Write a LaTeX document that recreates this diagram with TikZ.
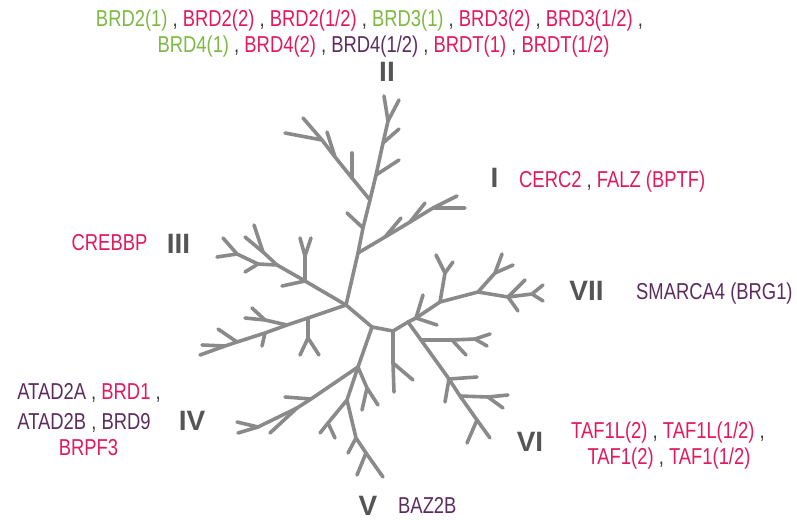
\documentclass[tikz,border=0pt]{standalone}
\usepackage{fontspec}
\setmainfont{Liberation Sans}[FakeStretch=0.8]
\newfontfamily\numfont{Liberation Sans}
\definecolor{grn}{HTML}{7DB945}
\definecolor{pnk}{HTML}{E2195C}
\definecolor{pur}{HTML}{5C2C5E}
\definecolor{sepc}{HTML}{3A3A3A}
\definecolor{numc}{HTML}{555555}
\definecolor{treec}{HTML}{8A8A8A}
\begin{document}
\begin{tikzpicture}[x=1bp,y=-1bp,
  br/.style={draw=treec,line width=3.6bp,line cap=round,line join=round},
  lbl/.style={font=\fontsize{23bp}{27bp}\selectfont,text=sepc,inner sep=0pt,anchor=base},
  lblw/.style={lbl,anchor=base west},
  num/.style={font=\numfont\bfseries\fontsize{28bp}{32bp}\selectfont,text=numc,inner sep=0pt,anchor=base}]
\useasboundingbox (0,0) rectangle (797,520);
% ---------- tree coordinates ----------
\coordinate (c0) at (346,305);
% II trunk
\coordinate (t1) at (358,253);
\coordinate (t2) at (363,228);
\coordinate (t3) at (370,200);
\coordinate (t4) at (376,175);
\coordinate (t5) at (383,143);
\coordinate (t6) at (388,121);
\coordinate (t6a) at (384,96);
\coordinate (t6b) at (399,100);
\coordinate (t5a) at (399,129);
\coordinate (t4a) at (399,160);
\coordinate (t2a) at (347,213);
\coordinate (a1) at (352,178);
\coordinate (a1a) at (352,153);
\coordinate (a2) at (335,157);
\coordinate (a2a) at (327,132);
\coordinate (a3) at (322,140);
\coordinate (a3a) at (285,133);
\coordinate (a3b) at (303,118);
% I
\coordinate (b1) at (385,237);
\coordinate (b1a) at (401,218);
\coordinate (b2) at (410,222);
\coordinate (b2a) at (425,203);
\coordinate (b3) at (433,208);
\coordinate (b3a) at (465,208);
\coordinate (b3b) at (457,196);
% III
\coordinate (d1) at (305,281);
\coordinate (d1v) at (305,256);
\coordinate (d1va) at (300,238);
\coordinate (d1vb) at (311,238);
\coordinate (d1a) at (282,286);
\coordinate (d2) at (277,265);
\coordinate (d3) at (258,264);
\coordinate (d3a) at (245,272);
\coordinate (d4) at (237,254);
\coordinate (d4a) at (223,238);
\coordinate (d4b) at (217,257);
\coordinate (d5) at (263,252);
\coordinate (d5a) at (245,237);
\coordinate (d5b) at (254,225);
% IV
\coordinate (e1) at (308,318);
\coordinate (e1v) at (308,338);
\coordinate (e1va) at (300,355);
\coordinate (e1vb) at (319,355);
\coordinate (e2) at (287,325);
\coordinate (e2b) at (265,320);
\coordinate (e2ba) at (245,318);
\coordinate (e2bb) at (252,308);
\coordinate (e3) at (265,333);
\coordinate (e3a) at (262,346);
\coordinate (e4) at (237,342);
\coordinate (e4a) at (218,329);
\coordinate (e5) at (225,346);
\coordinate (e5a) at (202,345);
\coordinate (e5b) at (200,355);
% V
\coordinate (x1) at (372,327);
\coordinate (v1) at (358,367);
\coordinate (vb) at (367,388);
\coordinate (vba) at (362,410);
\coordinate (vbb) at (378,405);
\coordinate (w1) at (311,399);
\coordinate (w1a) at (285,397);
\coordinate (w2) at (297,408);
\coordinate (w2a) at (270,433);
\coordinate (w3) at (258,427);
\coordinate (w3a) at (237,422);
\coordinate (w3b) at (238,433);
\coordinate (v2) at (347,400);
\coordinate (v3) at (328,423);
\coordinate (v3a) at (320,433);
\coordinate (v3b) at (335,438);
\coordinate (v4) at (356,438);
\coordinate (v4a) at (348,453);
\coordinate (v5) at (366,453);
\coordinate (v5a) at (357,475);
\coordinate (v5b) at (383,477);
% right part
\coordinate (y1) at (393,331);
\coordinate (y2) at (393,363);
\coordinate (y2a) at (413,380);
\coordinate (y2b) at (394,392);
\coordinate (z0) at (408,322);
% VII
\coordinate (z1) at (416,318);
\coordinate (z1a) at (437,325);
\coordinate (z1b) at (423,295);
\coordinate (z2) at (440,302);
\coordinate (z2v) at (445,273);
\coordinate (z2va) at (436,255);
\coordinate (z2vb) at (453,262);
\coordinate (z3) at (478,292);
\coordinate (z3v) at (495,273);
\coordinate (z3va) at (502,254);
\coordinate (z3vb) at (513,265);
\coordinate (z4) at (508,297);
\coordinate (z4a) at (525,280);
\coordinate (z4b) at (518,311);
\coordinate (z5) at (532,294);
\coordinate (z5a) at (543,285);
\coordinate (z5b) at (543,301);
% VI
\coordinate (f1) at (421,340);
\coordinate (g0) at (452,340);
\coordinate (g0a) at (466,355);
\coordinate (g1) at (475,339);
\coordinate (g1a) at (490,334);
\coordinate (g1b) at (487,346);
\coordinate (f2) at (449,379);
\coordinate (f2a) at (477,377);
\coordinate (f2b) at (445,402);
\coordinate (f3) at (460,396);
\coordinate (h1) at (488,397);
\coordinate (h1a) at (508,395);
\coordinate (h1b) at (503,408);
\coordinate (f4) at (477,420);
\coordinate (f4a) at (467,443);
\coordinate (f5) at (490,438);
% ---------- branches ----------
% II
\draw[br] (c0) -- (t1) -- (t2) -- (t3) -- (t4) -- (t5) -- (t6) -- (t6a);
\draw[br] (t6) -- (t6b);
\draw[br] (t5) -- (t5a);
\draw[br] (t4) -- (t4a);
\draw[br] (t2) -- (t2a);
\draw[br] (t3) -- (a1) -- (a2) -- (a3) -- (a3b);
\draw[br] (a1) -- (a1a);
\draw[br] (a2) -- (a2a);
\draw[br] (a3) -- (a3a);
% I
\draw[br] (t1) -- (b1) -- (b2) -- (b3) -- (b3a);
\draw[br] (b3) -- (b3b);
\draw[br] (b1) -- (b1a);
\draw[br] (b2) -- (b2a);
% III
\draw[br] (c0) -- (d1) -- (d2) -- (d3) -- (d4) -- (d4a);
\draw[br] (d4) -- (d4b);
\draw[br] (d3) -- (d3a);
\draw[br] (d2) -- (d5) -- (d5a);
\draw[br] (d5) -- (d5b);
\draw[br] (d1) -- (d1v) -- (d1va);
\draw[br] (d1v) -- (d1vb);
\draw[br] (d1) -- (d1a);
% IV
\draw[br] (c0) -- (e1) -- (e2) -- (e3) -- (e4) -- (e5) -- (e5b);
\draw[br] (e5) -- (e5a);
\draw[br] (e4) -- (e4a);
\draw[br] (e3) -- (e3a);
\draw[br] (e2) -- (e2b) -- (e2ba);
\draw[br] (e2b) -- (e2bb);
\draw[br] (e1) -- (e1v) -- (e1va);
\draw[br] (e1v) -- (e1vb);
% V
\draw[br] (c0) -- (x1) -- (v1) -- (v2) -- (v4) -- (v5) -- (v5b);
\draw[br] (v5) -- (v5a);
\draw[br] (v4) -- (v4a);
\draw[br] (v2) -- (v3) -- (v3a);
\draw[br] (v3) -- (v3b);
\draw[br] (v1) -- (vb) -- (vba);
\draw[br] (vb) -- (vbb);
\draw[br] (v1) -- (w1) -- (w2) -- (w3) -- (w3a);
\draw[br] (w3) -- (w3b);
\draw[br] (w2) -- (w2a);
\draw[br] (w1) -- (w1a);
% right
\draw[br] (x1) -- (y1) -- (y2) -- (y2b);
\draw[br] (y2) -- (y2a);
\draw[br] (y1) -- (z0);
% VII
\draw[br] (z0) -- (z1) -- (z2) -- (z3) -- (z4) -- (z5) -- (z5a);
\draw[br] (z5) -- (z5b);
\draw[br] (z4) -- (z4a);
\draw[br] (z4) -- (z4b);
\draw[br] (z3) -- (z3v) -- (z3va);
\draw[br] (z3v) -- (z3vb);
\draw[br] (z2) -- (z2v) -- (z2va);
\draw[br] (z2v) -- (z2vb);
\draw[br] (z1) -- (z1a);
\draw[br] (z1) -- (z1b);
% VI
\draw[br] (z0) -- (f1) -- (f2) -- (f3) -- (f4) -- (f5);
\draw[br] (f4) -- (f4a);
\draw[br] (f3) -- (h1) -- (h1a);
\draw[br] (h1) -- (h1b);
\draw[br] (f2) -- (f2a);
\draw[br] (f2) -- (f2b);
\draw[br] (f1) -- (g0) -- (g1) -- (g1a);
\draw[br] (g1) -- (g1b);
\draw[br] (g0) -- (g0a);
% ---------- labels ----------
\node[lbl] (top1) at (369.5,27) {{\color{grn}BRD2(1)} , {\color{pnk}BRD2(2)} , {\color{pnk}BRD2(1/2)} , {\color{grn}BRD3(1)} , {\color{pnk}BRD3(2)} , {\color{pnk}BRD3(1/2)} ,};
\node[lbl] (top2) at (383.5,53) {{\color{grn}BRD4(1)} , {\color{pnk}BRD4(2)} , {\color{pur}BRD4(1/2)} , {\color{pnk}BRDT(1)} , {\color{pnk}BRDT(1/2)}};
\node[num] (nII) at (387,82) {II};
\node[num] (nI) at (494.5,188) {I};
\node[lblw] (gI) at (519,188) {{\color{pnk}CERC2} , {\color{pnk}FALZ (BPTF)}};
\node[lbl] (gIII) at (109.5,251) {\color{pnk}CREBBP};
\node[num] (nIII) at (178.5,254) {III};
\node[num] (nVII) at (586.5,301) {VII};
\node[lblw] (gVII) at (636,300) {\color{pur}SMARCA4 (BRG1)};
\node[lbl] (gIVa) at (89,399) {{\color{pur}ATAD2A} , {\color{pnk}BRD1} ,};
\node[lbl] (gIVb) at (84,429) {{\color{pur}ATAD2B} , {\color{pur}BRD9}};
\node[lbl] (gIVc) at (88.5,455) {\color{pnk}BRPF3};
\node[num] (nIV) at (192,430) {IV};
\node[num] (nV) at (368,515) {V};
\node[lblw] (gV) at (398,513) {\color{pur}BAZ2B};
\node[num] (nVI) at (530,451) {VI};
\node[lbl] (gVIa) at (668,438) {{\color{pnk}TAF1L(2)} , {\color{pnk}TAF1L(1/2)} ,};
\node[lbl] (gVIb) at (669,464) {{\color{pnk}TAF1(2)} , {\color{pnk}TAF1(1/2)}};
\end{tikzpicture}
\end{document}
